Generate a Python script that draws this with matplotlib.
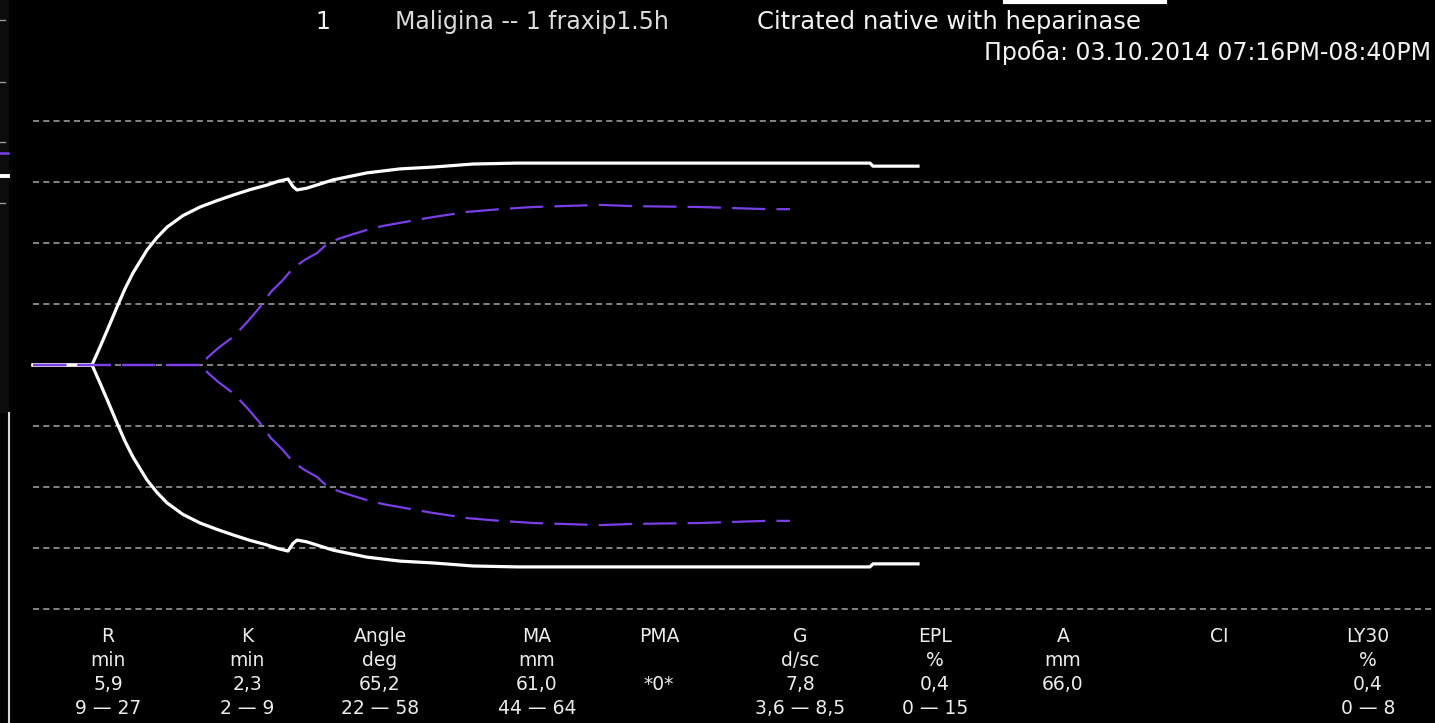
import numpy as np
import matplotlib
matplotlib.use('Agg')
import matplotlib.pyplot as plt
from matplotlib.lines import Line2D
from matplotlib.patches import Rectangle

# thromboelastogram traces: time in minutes, full amplitude in mm
whiteT = [0, 5.9, 6.7, 7.5, 8.4, 9.2, 10.0, 11.4, 12.4, 13.4, 15.0, 16.7, 18.4, 20.0,
          21.7, 23.4, 24.5, 25.5, 26.0, 26.4, 27.4, 30.0, 33.4, 36.7, 40.0, 44.0, 48.4,
          56.7, 83.7, 84.0, 88.5]
whiteA = [0, 0, 5.9, 12.0, 19.0, 25.0, 30.2, 37.7, 41.8, 45.2, 49.0, 51.8, 53.9, 55.7,
          57.5, 59.0, 60.2, 61.0, 58.5, 57.4, 58.0, 60.7, 63.0, 64.3, 64.9, 65.9, 66.2,
          66.2, 66.2, 65.2, 65.2]

purpleT = [0, 17.2, 17.4, 18.5, 20.0, 21.4, 22.7, 23.8, 25.0, 26.0, 27.2, 28.4, 29.4,
           30.5, 31.7, 33.4, 35.0, 36.7, 38.4, 40.0, 43.4, 46.7, 50.0, 56.7, 60.0, 66.7,
           73.4, 75.7]
purpleA = [0, 0, 2.3, 5.5, 9.2, 14.0, 19.0, 24.0, 27.9, 31.8, 34.5, 36.7, 39.7,
           41.3, 42.6, 44.3, 45.6, 46.6, 47.6, 48.5, 50.2, 51.1, 51.8, 52.5, 52.1, 51.8,
           51.1, 51.1]

gridLevels = [-40, -30, -20, -10, 0, 10, 20, 30, 40]

paramNames = ['R', 'K', 'Angle', 'MA', 'PMA', 'G', 'EPL', 'A', 'CI', 'LY30']
paramUnits = ['min', 'min', 'deg', 'mm', '', 'd/sc', '%', 'mm', '', '%']
paramValues = ['5,9', '2,3', '65,2', '61,0', '*0*', '7,8', '0,4', '66,0', '', '0,4']
paramRanges = ['9 — 27', '2 — 9', '22 — 58', '44 — 64', '', '3,6 — 8,5', '0 — 15', '', '', '0 — 8']
paramX = [108, 247, 380, 537, 659, 800, 935, 1063, 1219, 1368]

W, H = 1435, 723
fig = plt.figure(figsize=(W / 100, H / 100), dpi=100, facecolor='black')
ax = fig.add_axes([0, 0, 1, 1])
ax.set_facecolor('black')
ax.set_xlim(-3.3, 140.2)
ax.set_ylim(-58.69, 59.84)
ax.axis('off')

def fx(px):
    return px / W

def fy(py):
    return 1 - py / H

# dashed grid
for lv in gridLevels:
    ax.plot([0, 141], [lv, lv], color='#a8a8a8', lw=1.1, dashes=(4, 2.7), zorder=1)

wt = np.array(whiteT)
wa = np.array(whiteA) / 2
ax.plot(wt, wa, color='white', lw=2.3, zorder=3, solid_joinstyle='round')
ax.plot(wt, -wa, color='white', lw=2.3, zorder=3, solid_joinstyle='round')

pt = np.array(purpleT)
pa = np.array(purpleA) / 2
violet = '#7b3fe6'
ax.plot(pt, pa, color=violet, lw=1.6, dashes=(15, 5), zorder=4)
ax.plot(pt, -pa, color=violet, lw=1.6, dashes=(15, 5), zorder=4)

# left side strip
fig.patches.append(Rectangle((0, fy(413)), fx(9), 413 / H, transform=fig.transFigure,
                             facecolor='#0c0c0c', edgecolor='none', zorder=0))
for ty in [20, 82, 142, 203]:
    fig.add_artist(Line2D([0, fx(5)], [fy(ty), fy(ty)], color='#9a9a9a', lw=1))
fig.add_artist(Line2D([0, fx(8)], [fy(153), fy(153)], color=violet, lw=1.8))
fig.add_artist(Line2D([0, fx(8)], [fy(176), fy(176)], color='white', lw=2.8))
fig.add_artist(Line2D([fx(9), fx(9)], [0, fy(413)], color='#d8d8d8', lw=1.5))

# edge of the toolbar above the header
fig.add_artist(Line2D([fx(1005), fx(1165)], [fy(2), fy(2)], color='white', lw=3))

# header
txtColor = '#f2f2f2'
fig.text(fx(323), fy(22), '1', color=txtColor, fontsize=17, ha='center', va='center')
fig.text(fx(395), fy(22), 'Maligina -- 1 fraxip1.5h', color='#dcdcdc', fontsize=17,
         ha='left', va='center')
fig.text(fx(757), fy(22), 'Citrated native with heparinase', color=txtColor, fontsize=17.5,
         ha='left', va='center')
fig.text(fx(1431), fy(52), 'Проба: 03.10.2014 07:16PM-08:40PM', color=txtColor, fontsize=17,
         ha='right', va='center')

# parameter table
rows = [paramNames, paramUnits, paramValues, paramRanges]
rowY = [636, 660, 684, 709]
for r, ry in zip(rows, rowY):
    for lbl, px in zip(r, paramX):
        if lbl:
            fig.text(fx(px), fy(ry), lbl, color='#ececec', fontsize=13.5,
                     ha='center', va='center')

fig.savefig('out.png', dpi=100, facecolor='black')
